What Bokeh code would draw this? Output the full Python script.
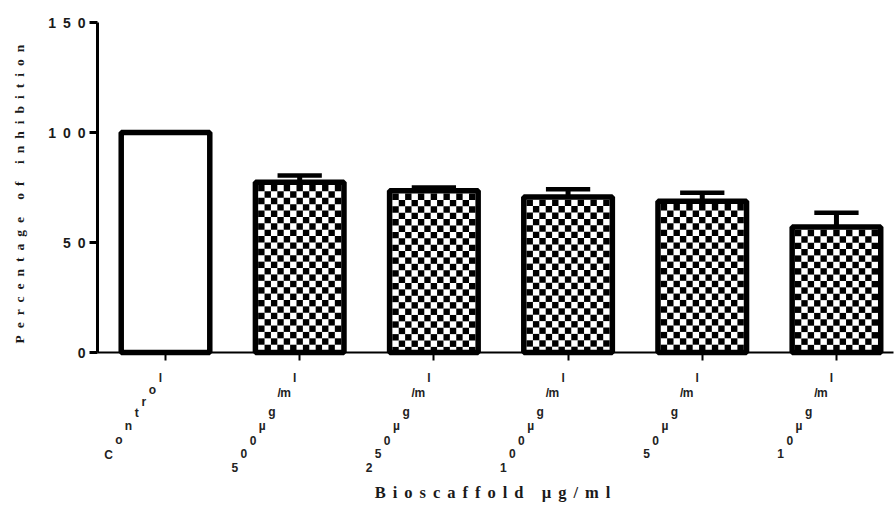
import math

from bokeh.core.properties import value
from bokeh.embed import file_html
from bokeh.models import ColumnDataSource, FixedTicker, InlineStyleSheet, Range1d
from bokeh.plotting import figure
from bokeh.resources import INLINE

# ---- data -----------------------------------------------------------------
groups = ["Control", "500µg/ml", "250µg/ml", "100µg/ml", "50µg/ml", "10µg/ml"]
inhibition = [100.0, 77.4, 73.5, 70.7, 68.7, 57.0]
sem = [0.0, 3.1, 1.5, 3.5, 3.9, 6.5]
y_ticks = [0, 50, 100, 150]
x_title = "Bioscaffold µg/ml"
y_title = "Percentage of inhibition"

# ---- geometry (the plotting frame covers the whole canvas) -----------------
W, H = 896, 506
PX_X = 134.19          # pixels per category step
PX_Y = 2.2             # pixels per percent
ORIGIN = (165, 352)    # canvas pixel of (first category, 0 %)
AXIS_LEFT_PX, AXIS_RIGHT_PX = 97, 893
SPACING = 7            # letter spacing applied to every text


def data_x(px):
    return (px - ORIGIN[0]) / PX_X


def data_y(py):
    return (ORIGIN[1] - py) / PX_Y


BAR_W = 0.66
BAR_LW = 5.5
CELLS = 13
CAP_HALF = 0.165

p = figure(width=W, height=H, output_backend="svg", toolbar_location=None,
           x_range=Range1d(data_x(0), data_x(W)),
           y_range=Range1d(data_y(H), data_y(0)),
           min_border=0)
p.outline_line_color = None
p.grid.visible = False
p.background_fill_color = "white"
p.stylesheets = [InlineStyleSheet(css=f":host {{ letter-spacing: {SPACING}px; }}")]

xs = list(range(len(groups)))
is_control = [g == "Control" for g in groups]
x_axis_at = data_x(AXIS_LEFT_PX)

bars = ColumnDataSource(dict(x=xs, top=inhibition))
p.vbar(x="x", top="top", bottom=0, width=BAR_W, source=bars,
       fill_color="white", line_color=None)

# checkerboard fill of the treated bars, cell grid laid inside each bar
cl, cr, cb, ct = [], [], [], []
for x, v, ctrl in zip(xs, inhibition, is_control):
    if ctrl:
        continue
    inner_l = x - BAR_W / 2 + BAR_LW / 2 / PX_X
    inner_r = x + BAR_W / 2 - BAR_LW / 2 / PX_X
    inner_t = v - BAR_LW / 2 / PX_Y
    cw = (inner_r - inner_l) / CELLS
    ch = cw * PX_X / PX_Y
    for r in range(math.ceil(inner_t / ch)):
        for c in range(CELLS):
            if (r + c) % 2 == 0:
                cl.append(inner_l + c * cw)
                cr.append(inner_l + (c + 1) * cw)
                ct.append(inner_t - r * ch)
                cb.append(max(0.0, inner_t - (r + 1) * ch))
p.quad(left=cl, right=cr, bottom=cb, top=ct, fill_color="black",
       line_color=None)

p.vbar(x="x", top="top", bottom=0, width=BAR_W, source=bars,
       fill_color=None, line_color="black", line_width=BAR_LW)

# upper error bars (mean + SEM)
ex = [x for x, s in zip(xs, sem) if s > 0]
err = ColumnDataSource(dict(
    x=ex,
    xl=[x - CAP_HALF for x in ex],
    xr=[x + CAP_HALF for x in ex],
    y0=[v for v, s in zip(inhibition, sem) if s > 0],
    y1=[v + s for v, s in zip(inhibition, sem) if s > 0]))
p.segment(x0="x", x1="x", y0="y0", y1="y1", source=err,
          line_color="black", line_width=5)
p.segment(x0="xl", x1="xr", y0="y1", y1="y1", source=err,
          line_color="black", line_width=4.5)

# ---- axes (pinned at x = left edge, y = 0) --------------------------------
ya = p.yaxis[0]
ya.fixed_location = x_axis_at
ya.bounds = (min(y_ticks), max(y_ticks))
ya.ticker = FixedTicker(ticks=y_ticks)
ya.major_label_overrides = {t: "" for t in y_ticks}
ya.major_label_text_font_size = "0px"
ya.minor_tick_line_color = None
ya.axis_line_width = 3
ya.major_tick_line_width = 3
ya.major_tick_in = 0
ya.major_tick_out = 8

xa = p.xaxis[0]
xa.fixed_location = 0
xa.bounds = (x_axis_at, data_x(AXIS_RIGHT_PX))
xa.ticker = FixedTicker(ticks=xs)
xa.major_label_overrides = {x: "" for x in xs}
xa.major_label_text_font_size = "0px"
xa.minor_tick_line_color = None
xa.axis_line_width = 2
xa.major_tick_line_width = 2
xa.major_tick_in = 0
xa.major_tick_out = 8

# y tick labels, right-aligned 12 px left of the axis line
tick_txt = [str(t) for t in y_ticks]
p.text(x=[x_axis_at + (-12 - (len(s) - 1) * SPACING) / PX_X for s in tick_txt],
       y=y_ticks, text=tick_txt, text_align="right", text_baseline="middle",
       text_font=value("Liberation Sans"), text_font_style="bold",
       text_font_size="14px", text_color="#1a1a1a")

# ---- axis titles ----------------------------------------------------------
p.text(x=[data_x(19)], y=[data_y(343)], text=[y_title], angle=math.pi / 2,
       text_align="left", text_baseline="middle",
       text_font=value("Liberation Serif"), text_font_style="bold",
       text_font_size="13.5px", text_color="#1a1a1a")

x_mid_px = (AXIS_LEFT_PX + AXIS_RIGHT_PX) / 2 - 3
p.text(x=[data_x(x_mid_px - (len(x_title) - 1) * SPACING / 2)],
       y=[data_y(492)], text=[x_title],
       text_align="center", text_baseline="middle",
       text_font=value("Liberation Serif"), text_font_style="bold",
       text_font_size="16.5px", text_color="#1a1a1a")

# ---- category labels: upright glyphs stepped along a slanted baseline -----
# advance widths (1/1000 em) steer the step between neighbouring glyphs
ADV = {"C": 722, "o": 611, "n": 611, "t": 333, "r": 389, "l": 278,
       "µ": 611, "g": 611, "/m": 1167}
DIR = (-0.555, 0.832)          # down-left direction of the slanted baseline
END = (-5, 25)                 # last glyph, relative to the tick (px)


def glyph_units(label):
    units, i = [], 0
    while i < len(label):
        step = 2 if label[i] == "/" and i + 1 < len(label) else 1
        units.append(label[i:i + step])
        i += step
    return units


gx, gy, gt = [], [], []
for x, g in zip(xs, groups):
    units = glyph_units(g)
    dist = 0.0
    for k, u in enumerate(reversed(units)):
        if k > 0:
            prev = units[len(units) - k]
            w = (ADV.get(u, 556) + ADV.get(prev, 556)) / 2
            dist += 7 + 0.0168 * w
        ox = END[0] + DIR[0] * dist
        oy = END[1] + DIR[1] * dist
        parts = [(u, 0.0)] if len(u) == 1 else [(u[0], -5.0), (u[1], 1.5)]
        for ch_, shift in parts:
            gx.append(x + (ox + shift) / PX_X)
            gy.append(-oy / PX_Y)
            gt.append(ch_)
p.text(x=gx, y=gy, text=gt, text_align="center", text_baseline="middle",
       text_font=value("Liberation Sans"), text_font_style="bold",
       text_font_size="12px", text_color="#222222")

open("out.html", "w").write(file_html(p, INLINE))
